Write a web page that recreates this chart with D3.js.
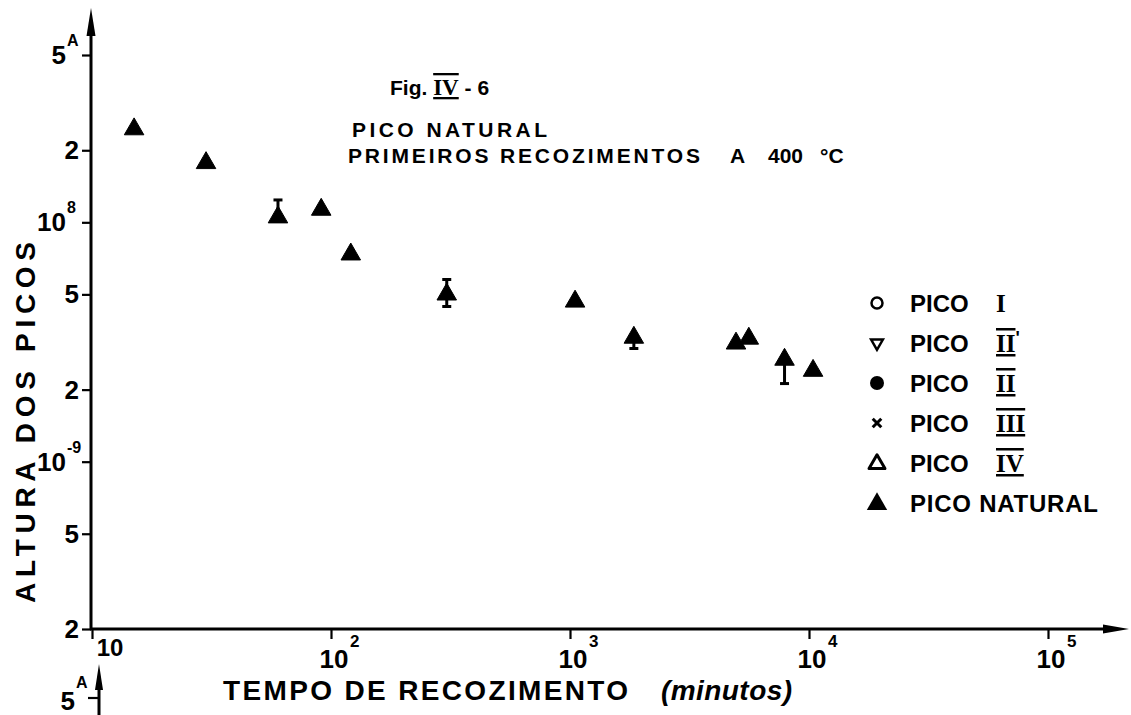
<!DOCTYPE html>
<html><head><meta charset="utf-8">
<script src="https://cdn.jsdelivr.net/npm/d3@7"></script>
<style>
body{margin:0;background:#fff}
svg{display:block}
text{font-family:"Liberation Sans",Arial,sans-serif;font-weight:bold;fill:#000}
.roman{font-family:"Liberation Serif","DejaVu Serif",serif;font-weight:bold}
</style>
</head><body>
<svg id="c" width="1131" height="715"></svg>
<script>
// ---- data ----
const times   = [15, 30, 60, 91, 121, 305, 1050, 1850, 4950, 5600, 7900, 10400];
const heights = [2.45e-8, 1.77e-8, 1.05e-8, 1.13e-8, 7.35e-9, 5.0e-9, 4.67e-9, 3.30e-9, 3.12e-9, 3.27e-9, 2.67e-9, 2.40e-9];
const errHigh = [null, null, 1.24e-8, null, null, 5.77e-9, null, null, null, null, null, null];
const errLow  = [null, null, null, null, null, 4.45e-9, null, 2.97e-9, null, null, 2.12e-9, null];

const yTickValues = [5e-8, 2e-8, 1e-8, 5e-9, 2e-9, 1e-9, 5e-10, 2e-10];
const yTickMain   = ["5", "2", "10", "5", "2", "10", "5", "2"];
const yTickSup    = ["A", "", "8", "", "", "-9", "", ""];

const xTickValues = [10, 100, 1000, 10000, 100000];
const xTickMain   = ["10", "10", "10", "10", "10"];
const xTickSup    = ["", "2", "3", "4", "5"];

const legendSymbols  = ["circleOpen", "triDownOpen", "circleFilled", "cross", "triOpen", "triFilled"];
const legendWords    = ["PICO", "PICO", "PICO", "PICO", "PICO", "PICO NATURAL"];
const legendNumerals = ["I", "II", "II", "III", "IV", ""];
const legendPrime    = ["", "'", "", "", "", ""];

const xTitle = "TEMPO DE RECOZIMENTO";
const xUnit = "(minutos)";
const yTitle = "ALTURA DOS PICOS";
const subtitle1 = "PICO NATURAL";
const subtitle2 = ["PRIMEIROS RECOZIMENTOS", "A", "400", "°C"];

// ---- drawing ----
const svg = d3.select("#c");
const X0 = 91, Y0 = 629;
const x = d3.scaleLog().domain([10, 1e5]).range([92, 1048]);
const y = d3.scaleLog().domain([2e-10, 5e-8]).range([629, 55]);

// y axis
const yAx = svg.append("g").attr("transform", `translate(${X0},0)`)
  .call(d3.axisLeft(y).tickValues(yTickValues).tickSize(9).tickFormat(""));
yAx.select(".domain").remove();
yAx.selectAll(".tick line").attr("stroke", "#000").attr("stroke-width", 2.2);
svg.append("line").attr("x1", X0).attr("x2", X0).attr("y1", Y0 + 1).attr("y2", 30)
  .attr("stroke", "#000").attr("stroke-width", 3);
svg.append("path").attr("d", `M${X0},8 L${X0 - 4.5},36 L${X0 + 4.5},36 Z`).attr("fill", "#000");

// x axis
const xAx = svg.append("g").attr("transform", `translate(0,${Y0})`)
  .call(d3.axisBottom(x).tickValues(xTickValues).tickSize(10).tickFormat(""));
xAx.select(".domain").remove();
xAx.selectAll(".tick line").attr("stroke", "#000").attr("stroke-width", 2.2);
svg.append("line").attr("x1", X0 - 1).attr("x2", 1110).attr("y1", Y0).attr("y2", Y0)
  .attr("stroke", "#000").attr("stroke-width", 3);
svg.append("path").attr("d", `M1129,${Y0} L1103,${Y0 - 4.5} L1103,${Y0 + 4.5} Z`).attr("fill", "#000");

// y tick labels
yTickValues.forEach((v, i) => {
  const yy = y(v);
  const hasSup = yTickSup[i] !== "";
  svg.append("text").attr("x", hasSup ? 66 : 79).attr("y", yy + 9)
    .attr("text-anchor", "end").attr("font-size", 26).text(yTickMain[i]);
  if (hasSup) {
    svg.append("text").attr("x", 67).attr("y", yy - 9)
      .attr("font-size", 16).text(yTickSup[i]);
  }
});

// x tick labels
xTickValues.forEach((v, i) => {
  const xx = x(v);
  if (xTickSup[i] === "") {
    // first label sits right of the axis corner
    svg.append("text").attr("x", xx + 18).attr("y", Y0 + 27)
      .attr("text-anchor", "middle").attr("font-size", 24).text(xTickMain[i]);
  } else {
    svg.append("text").attr("x", xx + 3).attr("y", Y0 + 39)
      .attr("text-anchor", "middle").attr("font-size", 26).text(xTickMain[i]);
    svg.append("text").attr("x", xx + 19).attr("y", Y0 + 18)
      .attr("font-size", 17).text(xTickSup[i]);
  }
});

// axis titles
svg.append("text").attr("x", 223).attr("y", 700).attr("font-size", 28)
  .attr("textLength", 405).attr("lengthAdjust", "spacing").text(xTitle);
svg.append("text").attr("x", 661).attr("y", 700).attr("font-size", 28)
  .attr("font-style", "italic").attr("textLength", 131).attr("lengthAdjust", "spacing").text(xUnit);
svg.append("text").attr("transform", "translate(35,603) rotate(-90)")
  .attr("font-size", 28).attr("textLength", 361).attr("lengthAdjust", "spacing").text(yTitle);

// figure label and subtitle
const fig = svg.append("text").attr("x", 390).attr("y", 95).attr("font-size", 21);
fig.append("tspan").text("Fig. ");
fig.append("tspan").attr("class", "roman").attr("font-size", 23).attr("text-decoration", "overline underline").text("IV");
fig.append("tspan").text(" - 6");
svg.append("text").attr("x", 352).attr("y", 137).attr("font-size", 21)
  .attr("textLength", 195).attr("lengthAdjust", "spacing").text(subtitle1);
const sub2 = svg.append("text").attr("y", 163).attr("font-size", 21);
sub2.append("tspan").attr("x", 348).attr("textLength", 352).attr("lengthAdjust", "spacing").text(subtitle2[0]);
sub2.append("tspan").attr("x", 730).text(subtitle2[1]);
sub2.append("tspan").attr("x", 768).text(subtitle2[2]);
sub2.append("tspan").attr("x", 820).text(subtitle2[3]);

// error bars
const eb = svg.append("g").attr("stroke", "#000").attr("stroke-width", 3);
times.forEach((t, i) => {
  const xx = x(t), yy = y(heights[i]);
  if (errHigh[i] !== null) {
    eb.append("line").attr("x1", xx).attr("x2", xx).attr("y1", yy).attr("y2", y(errHigh[i]));
    eb.append("line").attr("x1", xx - 4.5).attr("x2", xx + 4.5).attr("y1", y(errHigh[i])).attr("y2", y(errHigh[i]));
  }
  if (errLow[i] !== null) {
    eb.append("line").attr("x1", xx).attr("x2", xx).attr("y1", yy).attr("y2", y(errLow[i]));
    eb.append("line").attr("x1", xx - 4.5).attr("x2", xx + 4.5).attr("y1", y(errLow[i])).attr("y2", y(errLow[i]));
  }
});

// points (PICO NATURAL, filled triangles)
const tri = d3.symbol().type(d3.symbolTriangle).size(165);
svg.append("g").selectAll("path").data(times).join("path")
  .attr("d", tri)
  .attr("transform", (t, i) => `translate(${x(t)},${y(heights[i])})`)
  .attr("fill", "#000").attr("stroke", "#000").attr("stroke-width", 1).attr("stroke-linejoin", "round");

// legend
const rowY = d3.scalePoint().domain(d3.range(legendWords.length)).range([303, 503]);
const lg = svg.append("g");
legendWords.forEach((w, i) => {
  const cy = rowY(i), cx = 877;
  const s = legendSymbols[i];
  if (s === "circleOpen") {
    lg.append("circle").attr("cx", cx).attr("cy", cy).attr("r", 5.5).attr("fill", "none").attr("stroke", "#000").attr("stroke-width", 2.5);
  } else if (s === "circleFilled") {
    lg.append("circle").attr("cx", cx).attr("cy", cy).attr("r", 7).attr("fill", "#000");
  } else if (s === "triDownOpen") {
    lg.append("path").attr("d", d3.symbol().type(d3.symbolTriangle).size(60))
      .attr("transform", `translate(${cx},${cy}) rotate(180)`).attr("fill", "none").attr("stroke", "#000").attr("stroke-width", 2.5);
  } else if (s === "cross") {
    lg.append("path").attr("d", d3.symbol().type(d3.symbolX).size(50))
      .attr("transform", `translate(${cx},${cy})`).attr("fill", "none").attr("stroke", "#000").attr("stroke-width", 3);
  } else if (s === "triOpen") {
    lg.append("path").attr("d", d3.symbol().type(d3.symbolTriangle).size(110))
      .attr("transform", `translate(${cx},${cy + 1})`).attr("fill", "none").attr("stroke", "#000").attr("stroke-width", 3).attr("stroke-linejoin", "round");
  } else {
    lg.append("path").attr("d", d3.symbol().type(d3.symbolTriangle).size(180))
      .attr("transform", `translate(${cx},${cy + 1})`).attr("fill", "#000");
  }
  const tx = lg.append("text").attr("x", 910).attr("y", cy + 9).attr("font-size", 24);
  if (legendNumerals[i] === "") {
    tx.attr("textLength", 188).attr("lengthAdjust", "spacing").text(w);
  } else {
    tx.text(w);
    const rn = lg.append("text").attr("x", 996).attr("y", cy + 9).attr("font-size", 25);
    rn.append("tspan").attr("class", "roman")
      .attr("text-decoration", legendNumerals[i] === "I" ? "none" : "overline underline")
      .text(legendNumerals[i]);
    if (legendPrime[i]) rn.append("tspan").attr("font-size", 18).attr("dy", -8).text(legendPrime[i]);
  }
});

// fragment of the next figure's axis at bottom-left
svg.append("text").attr("x", 75).attr("y", 710).attr("text-anchor", "end").attr("font-size", 26).text("5");
svg.append("text").attr("x", 76).attr("y", 688).attr("font-size", 16).text("A");
svg.append("line").attr("x1", 99).attr("x2", 99).attr("y1", 680).attr("y2", 715).attr("stroke", "#000").attr("stroke-width", 3);
svg.append("path").attr("d", "M99,664 L95,690 L103,690 Z").attr("fill", "#000");
svg.append("line").attr("x1", 88).attr("x2", 99).attr("y1", 698).attr("y2", 698).attr("stroke", "#000").attr("stroke-width", 2.2);
</script>
</body></html>
